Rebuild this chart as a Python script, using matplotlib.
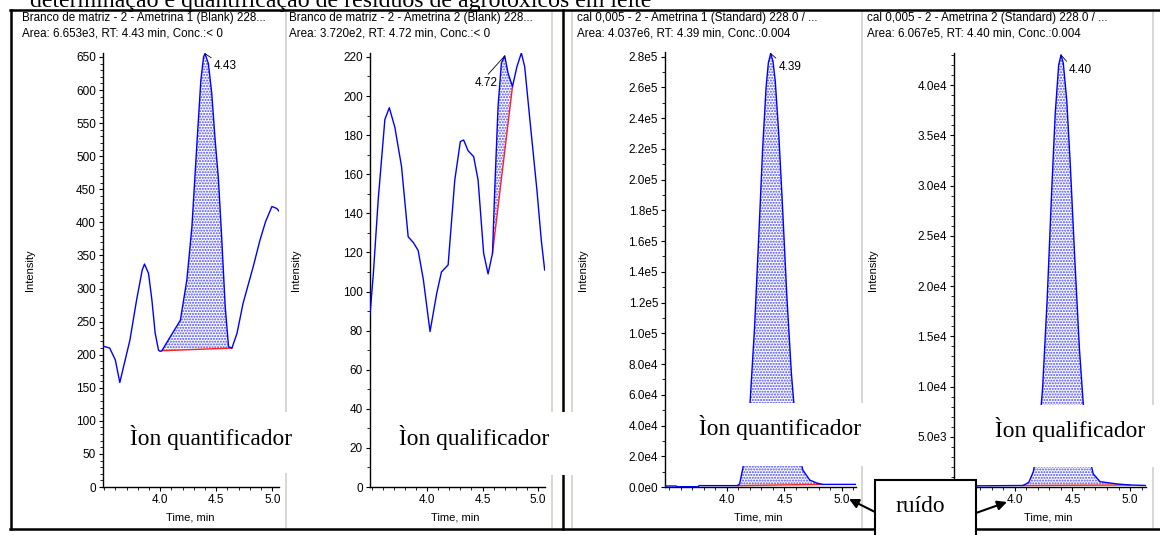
import numpy as np
import matplotlib
matplotlib.use("Agg")
import matplotlib.pyplot as plt
from matplotlib.patches import Rectangle
from matplotlib.ticker import MultipleLocator, FixedLocator, FuncFormatter

W, H = 1160, 535
plt.rcParams['font.family'] = ['Liberation Sans', 'DejaVu Sans']
plt.rcParams['hatch.linewidth'] = 1.0

# ── data ───────────────────────────────────────────────────────────────────
# panel 1: blank, quantifier ion
t_p1 = [3.49, 3.55, 3.60, 3.64, 3.73, 3.79, 3.84, 3.86, 3.896, 3.926, 3.955, 3.985, 4.00,
        4.015, 4.09, 4.18, 4.238, 4.283, 4.33, 4.363, 4.387, 4.40, 4.43, 4.46, 4.49, 4.52,
        4.55, 4.58, 4.61, 4.64, 4.685, 4.74, 4.83, 4.89, 4.94, 4.997, 5.04, 5.065]
i_p1 = [213, 210, 192, 158, 222, 283, 328, 337, 323, 283, 233, 207, 205,
        206, 227, 252, 313, 393, 525, 615, 650, 655, 640, 595, 525, 465,
        373, 273, 212, 210, 232, 278, 333, 373, 401, 424, 421, 416]
base_p1 = [4.015, 4.64]
base_i_p1 = [206, 210]

# panel 2: blank, qualifier ion
t_p2 = [3.486, 3.516, 3.56, 3.62, 3.66, 3.71, 3.77, 3.83, 3.877, 3.92, 3.967, 4.027,
        4.087, 4.13, 4.19, 4.25, 4.30, 4.33, 4.37, 4.42, 4.46, 4.51, 4.55, 4.59,
        4.61, 4.64, 4.67, 4.70, 4.73, 4.77, 4.81, 4.85, 4.88, 4.93, 4.99, 5.03, 5.06]
i_p2 = [88, 109, 147, 188, 194, 184, 164, 128, 125, 121, 106, 79.5,
        99, 110, 113.6, 157, 176.7, 177.5, 172, 169, 157, 119.6, 109, 119.6,
        152, 194.6, 216.8, 220.5, 211.7, 204.8, 215, 222, 215, 186, 152, 126, 111]
base_p2 = [4.59, 4.77]
base_i_p2 = [119.6, 204.8]

# panel 3: standard 0.005, quantifier ion
t_p3 = [3.46, 3.557, 3.565, 3.75, 3.757, 4.09, 4.11, 4.14, 4.17, 4.20, 4.24, 4.28, 4.31,
        4.34, 4.36, 4.38, 4.40, 4.42, 4.45, 4.48, 4.52, 4.56, 4.60, 4.64, 4.66, 4.72,
        4.78, 4.83, 5.12]
i_p3 = [650, 650, 200, 200, 900, 900, 2000, 13000, 29600, 54000, 104000, 169000, 220000,
        260000, 276000, 282000, 277000, 264000, 230000, 187000, 125000, 74000, 38000, 17000,
        11000, 4500, 2600, 1700, 1700]
base_p3 = [4.09, 4.83]
base_i_p3 = [900, 1700]

# panel 4: standard 0.005, qualifier ion
t_p4 = [3.47, 4.07, 4.12, 4.16, 4.20, 4.24, 4.28, 4.32, 4.35, 4.38, 4.40, 4.42, 4.45,
        4.48, 4.52, 4.56, 4.60, 4.64, 4.68, 4.74, 4.89, 5.00, 5.14]
i_p4 = [100, 150, 460, 1540, 4260, 9800, 18700, 29700, 37200, 42000, 43000, 42200, 38500,
        32300, 22700, 13800, 7260, 3320, 1310, 530, 300, 200, 150]
base_p4 = [4.07, 5.00]
base_i_p4 = [150, 200]

titles = [
    ("Branco de matriz - 2 - Ametrina 1 (Blank) 228...", "Area: 6.653e3, RT: 4.43 min, Conc.:< 0"),
    ("Branco de matriz - 2 - Ametrina 2 (Blank) 228...", "Area: 3.720e2, RT: 4.72 min, Conc.:< 0"),
    ("cal 0,005 - 2 - Ametrina 1 (Standard) 228.0 / ...", "Area: 4.037e6, RT: 4.39 min, Conc.:0.004"),
    ("cal 0,005 - 2 - Ametrina 2 (Standard) 228.0 / ...", "Area: 6.067e5, RT: 4.40 min, Conc.:0.004"),
]
peak_labels = ["4.43", "4.72", "4.39", "4.40"]
peak_t = [4.40, 4.70, 4.38, 4.40]
peak_i = [655, 220.5, 282000, 43000]
ion_labels = ["Ìon quantificador", "Ìon qualificador", "Ìon quantificador", "Ìon qualificador"]
time_ticks = [4.0, 4.5, 5.0]
heading = "determinação e quantificação de resíduos de agrotóxicos em leite"


def sci(v, pos):
    v = round(v)
    if v == 0:
        return "0.0e0"
    e = int(np.floor(np.log10(abs(v))))
    return f"{v / 10 ** e:.1f}e{e}"


fig = plt.figure(figsize=(W / 100, H / 100), dpi=100)
fig.patch.set_facecolor('white')

# pixel layout of each panel: left, right, top of y axis, xlim, ylim, major, minor, formatter
layout = [
    (103, 279, 53, (3.49, 5.06), (0, 656), 50, 10, None),
    (370, 545, 53, (3.486, 5.063), (0, 222), 20, 10, None),
    (665, 856, 52, (3.461, 5.122), (0, 283000), 20000, 10000, sci),
    (954, 1146, 53, (3.47, 5.139), (0, 43200), 5000, 1000, sci),
]
series = [(t_p1, i_p1, base_p1, base_i_p1), (t_p2, i_p2, base_p2, base_i_p2),
          (t_p3, i_p3, base_p3, base_i_p3), (t_p4, i_p4, base_p4, base_i_p4)]
label_offsets = [((9, -12), 'left', (0, 1)), ((-19, -27), 'center', (0.5, 1)),
                 ((8, -13), 'left', (0, 1)), ((8, -15), 'left', (0, 1))]
x_axis_bottom = 487

for k, ((l, r, top, xl, yl, maj, mnr, fmt), (t, v, bt, bv)) in enumerate(zip(layout, series)):
    ax = fig.add_axes([l / W, 1 - x_axis_bottom / H, (r - l) / W, (x_axis_bottom - top) / H])
    ax.set_facecolor('none')
    t = np.asarray(t)
    v = np.asarray(v)
    m = (t >= bt[0]) & (t <= bt[1])
    px = np.concatenate([t[m], [bt[1], bt[0]]])
    py = np.concatenate([v[m], [bv[1], bv[0]]])
    ax.fill(px, py, facecolor='white', edgecolor='#4646ff', hatch='......', linewidth=0, zorder=1)
    ax.plot(bt, bv, color='#ff2020', lw=1.0, zorder=2)
    ax.plot(t, v, color='#0000ff', lw=1.0, zorder=3)
    ax.set_xlim(*xl)
    ax.set_ylim(*yl)
    for s in ('top', 'right'):
        ax.spines[s].set_visible(False)
    for s in ('left', 'bottom'):
        ax.spines[s].set_linewidth(1.0)
        ax.spines[s].set_color('black')
    ax.xaxis.set_major_locator(FixedLocator(time_ticks))
    ax.xaxis.set_minor_locator(MultipleLocator(0.1))
    ax.xaxis.set_major_formatter(FuncFormatter(lambda x, p: f"{x:.1f}"))
    ax.yaxis.set_major_locator(MultipleLocator(maj))
    ax.yaxis.set_minor_locator(MultipleLocator(mnr))
    if fmt is not None:
        ax.yaxis.set_major_formatter(FuncFormatter(fmt))
    ax.tick_params(which='major', direction='out', length=3, width=0.8, labelsize=8.5, pad=2)
    ax.tick_params(which='minor', direction='out', length=2, width=0.6)
    off, ha, rp = label_offsets[k]
    ax.annotate(peak_labels[k], xy=(peak_t[k], peak_i[k]), xytext=off, textcoords='offset pixels',
                ha=ha, va='center', fontsize=8.5, annotation_clip=False,
                arrowprops=dict(arrowstyle='-', color='black', lw=0.6, shrinkA=0, shrinkB=0, relpos=rp))

# ── page decorations, labels and callouts in pixel coordinates ─────────────
ov = fig.add_axes([0, 0, 1, 1], zorder=10)
ov.set_xlim(0, W)
ov.set_ylim(H, 0)
ov.axis('off')
ov.patch.set_alpha(0)

# heading of the page, cut at the top edge as in the scanned page
ov.text(30, 7.5, heading, fontsize=17.2, family='Liberation Serif', va='baseline', zorder=1)

gray = '#d4d0c8'
for gx in (286, 552, 572, 862, 1153):
    ov.plot([gx, gx], [12, 527], color=gray, lw=1.2, zorder=2)
ov.plot([10, 1160], [10, 10], color='black', lw=1.8, zorder=2)
ov.plot([10, 1160], [529, 529], color='black', lw=1.8, zorder=2)
ov.plot([11, 11], [10, 529], color='black', lw=1.8, zorder=2)
ov.plot([563, 563], [10, 529], color='black', lw=1.8, zorder=2)

title_x = [22, 289, 577, 867]
ylab_x = [30, 296, 583, 873]
xlab_x = [190, 455, 758, 1048]
for k in range(4):
    ov.text(title_x[k], 18.5, titles[k][0], fontsize=8.4, va='center', zorder=3)
    ov.text(title_x[k], 33.5, titles[k][1], fontsize=8.4, va='center', zorder=3)
    ov.text(ylab_x[k], 270, "Intensity", fontsize=8, rotation=90, ha='center', va='center', zorder=3)
    ov.text(xlab_x[k], 518, "Time, min", fontsize=8, ha='center', va='center', zorder=3)

# white boxes holding the ion captions
boxes = [(120, 412, 180, 61), (380, 412, 198, 63), (690, 403, 178, 63), (985, 405, 173, 62)]
ion_xy = [(211, 437), (474, 437), (780, 428), (1070, 430)]
for (bx, by, bw, bh), (tx, ty), txt in zip(boxes, ion_xy, ion_labels):
    ov.add_patch(Rectangle((bx, by), bw, bh, facecolor='white', edgecolor='none', zorder=5))
    ov.text(tx, ty, txt, fontsize=16.8, family='Liberation Serif', ha='center', va='center', zorder=6)

# "ruído" callout with arrows
ov.add_patch(Rectangle((875, 480), 101, 70, facecolor='white', edgecolor='black', lw=1.5, zorder=7))
ov.text(920, 507, "ruído", fontsize=16.8, family='Liberation Serif', ha='center', va='center', zorder=8)
arrow = dict(arrowstyle='-|>', color='black', lw=1.5, mutation_scale=14, shrinkA=0, shrinkB=0)
ov.annotate("", xy=(849, 499), xytext=(875, 512), arrowprops=arrow, zorder=8)
ov.annotate("", xy=(1007, 502), xytext=(976, 513), arrowprops=arrow, zorder=8)

fig.savefig("out.png", dpi=100)
